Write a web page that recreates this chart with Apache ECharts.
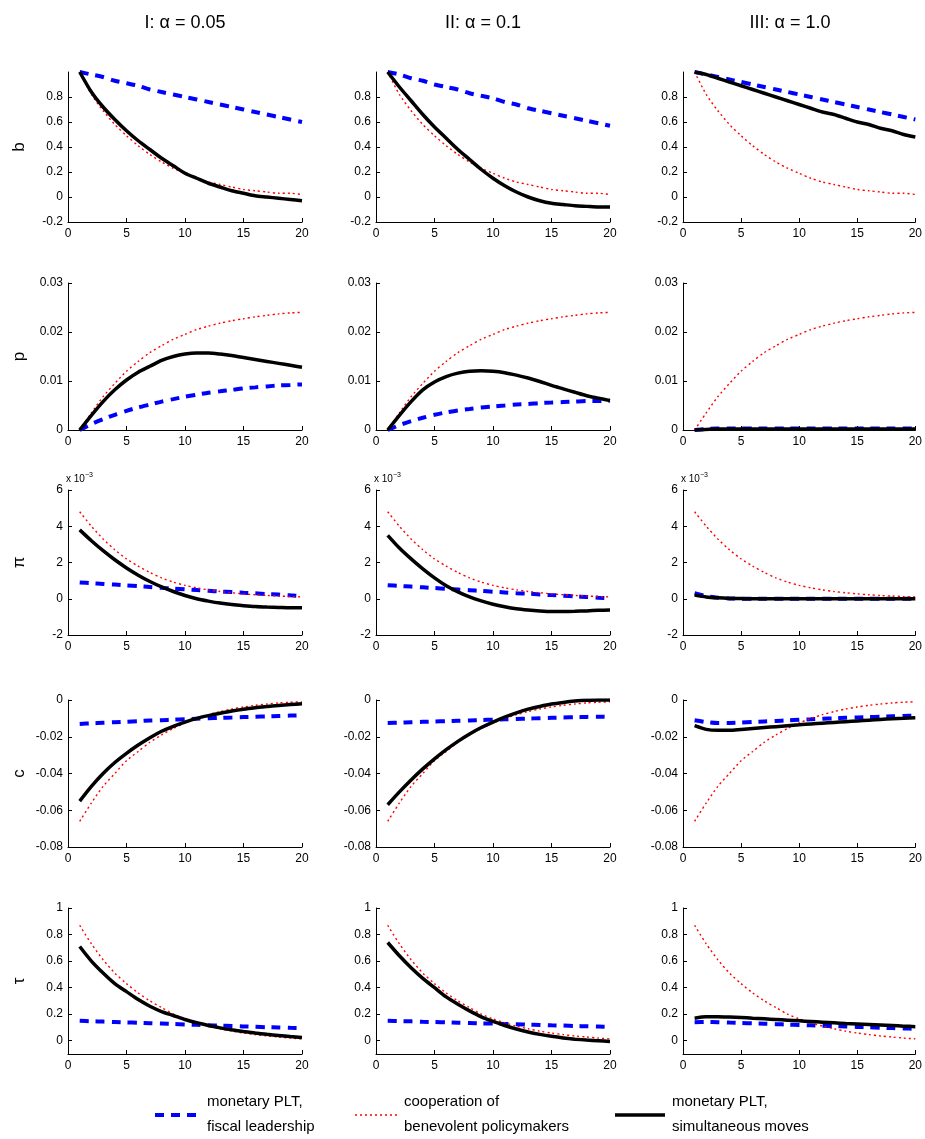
<!DOCTYPE html>
<html lang="en">
<head>
    <meta charset="UTF-8" />
    <title>PLT impulse responses</title>
    <style>
        html, body { margin: 0; padding: 0; background: #fff; }
        #chart { width: 925px; height: 1139px; }
    </style>
</head>
<body>
<div id="chart"></div>
<script src="https://cdn.jsdelivr.net/npm/echarts@6/dist/echarts.min.js"></script>
<script type="text/javascript">
    // horizon
    var periods = [1, 2, 3, 4, 5, 6, 7, 8, 9, 10, 11, 12, 13, 14, 15, 16, 17, 18, 19, 20];
    var colTitles = ['I: α = 0.05', 'II: α = 0.1', 'III: α = 1.0'];
    var rowNames = ['b', 'p', 'π', 'c', 'τ'];
    var seriesNames = ['monetary PLT,\nfiscal leadership', 'cooperation of\nbenevolent policymakers', 'monetary PLT,\nsimultaneous moves'];

    // b
    var bRed = [1.0, 0.82, 0.69, 0.58, 0.49, 0.41, 0.34, 0.28, 0.23, 0.19, 0.15, 0.12, 0.10, 0.08, 0.06, 0.05, 0.04, 0.03, 0.03, 0.02];
    var bBlue1 = [1.0, 0.98, 0.96, 0.93, 0.91, 0.89, 0.86, 0.84, 0.82, 0.80, 0.78, 0.76, 0.74, 0.72, 0.70, 0.68, 0.66, 0.64, 0.62, 0.60];
    var bBlack1 = [1.0, 0.84, 0.72, 0.62, 0.53, 0.45, 0.38, 0.31, 0.25, 0.19, 0.15, 0.11, 0.08, 0.05, 0.03, 0.01, 0.0, -0.01, -0.02, -0.03];
    var bBlue2 = [1.0, 0.98, 0.95, 0.93, 0.90, 0.88, 0.86, 0.83, 0.81, 0.79, 0.76, 0.74, 0.71, 0.69, 0.67, 0.65, 0.63, 0.61, 0.59, 0.57];
    var bBlack2 = [1.0, 0.88, 0.77, 0.66, 0.56, 0.47, 0.38, 0.30, 0.22, 0.15, 0.09, 0.04, 0.0, -0.03, -0.05, -0.06, -0.07, -0.075, -0.08, -0.08];
    var bBlue3 = [1.0, 0.98, 0.96, 0.94, 0.92, 0.90, 0.88, 0.86, 0.84, 0.82, 0.80, 0.78, 0.76, 0.74, 0.72, 0.70, 0.68, 0.66, 0.64, 0.62];
    var bBlack3 = [1.0, 0.98, 0.95, 0.92, 0.89, 0.86, 0.83, 0.80, 0.77, 0.74, 0.71, 0.68, 0.66, 0.63, 0.60, 0.58, 0.55, 0.53, 0.50, 0.48];

    // p
    var pRed = [0, 0.0035, 0.0068, 0.0095, 0.012, 0.014, 0.0158, 0.0172, 0.0185, 0.0195, 0.0205, 0.0212, 0.0218, 0.0223, 0.0227, 0.0231, 0.0234, 0.0237, 0.0239, 0.024];
    var pBlue1 = [0, 0.0012, 0.0022, 0.0031, 0.0039, 0.0046, 0.0052, 0.0058, 0.0063, 0.0068, 0.0072, 0.0076, 0.0079, 0.0082, 0.0085, 0.0087, 0.0089, 0.0091, 0.0092, 0.0093];
    var pBlack1 = [0, 0.003, 0.0058, 0.0082, 0.0102, 0.0118, 0.013, 0.0142, 0.015, 0.0155, 0.0157, 0.0157, 0.0155, 0.0152, 0.0148, 0.0144, 0.014, 0.0136, 0.0132, 0.0128];
    var pBlue2 = [0, 0.001, 0.0018, 0.0025, 0.0031, 0.0036, 0.004, 0.0043, 0.0046, 0.0048, 0.005, 0.0052, 0.0053, 0.0055, 0.0056, 0.0057, 0.0058, 0.0059, 0.0059, 0.006];
    var pBlack2 = [0, 0.003, 0.0058, 0.0082, 0.0098, 0.0109, 0.0116, 0.012, 0.0121, 0.012, 0.0117, 0.0112, 0.0106, 0.0099, 0.0091, 0.0084, 0.0077, 0.007, 0.0065, 0.006];
    var pBlue3 = [0, 0.0002, 0.0003, 0.0003, 0.0003, 0.0003, 0.0003, 0.0003, 0.0003, 0.0003, 0.0003, 0.0003, 0.0003, 0.0003, 0.0003, 0.0003, 0.0003, 0.0003, 0.0003, 0.0003];
    var pBlack3 = [0, 0.0001, 0.0002, 0.0002, 0.0002, 0.0002, 0.0002, 0.0002, 0.0002, 0.0002, 0.0002, 0.0002, 0.0002, 0.0002, 0.0002, 0.0002, 0.0002, 0.0002, 0.0002, 0.0002];

    // pi (x 10^-3)
    var piRed = [4.8, 4.0, 3.3, 2.7, 2.2, 1.8, 1.45, 1.15, 0.92, 0.74, 0.6, 0.49, 0.4, 0.33, 0.27, 0.22, 0.18, 0.15, 0.12, 0.1];
    var piBlue1 = [0.9, 0.86, 0.82, 0.78, 0.74, 0.7, 0.65, 0.6, 0.56, 0.52, 0.48, 0.44, 0.4, 0.37, 0.33, 0.3, 0.26, 0.23, 0.19, 0.15];
    var piBlack1 = [3.8, 3.2, 2.65, 2.15, 1.7, 1.3, 0.95, 0.65, 0.4, 0.18, 0.0, -0.13, -0.24, -0.32, -0.38, -0.43, -0.46, -0.48, -0.5, -0.5];
    var piBlue2 = [0.75, 0.71, 0.67, 0.63, 0.59, 0.55, 0.51, 0.47, 0.43, 0.39, 0.35, 0.31, 0.28, 0.24, 0.2, 0.17, 0.13, 0.1, 0.06, 0.03];
    var piBlack2 = [3.5, 2.8, 2.2, 1.65, 1.15, 0.72, 0.38, 0.1, -0.12, -0.3, -0.44, -0.55, -0.62, -0.67, -0.7, -0.7, -0.69, -0.67, -0.64, -0.62];
    var piBlue3 = [0.3, 0.15, 0.06, 0.02, 0, 0, 0, 0, 0, 0, 0, 0, 0, 0, 0, 0, 0, 0, 0, 0];
    var piBlack3 = [0.2, 0.1, 0.05, 0.02, 0.01, 0, 0, 0, 0, 0, 0, 0, 0, 0, 0, 0, 0, 0, 0, 0];

    // c
    var cRed = [-0.066, -0.056, -0.047, -0.04, -0.033, -0.028, -0.023, -0.019, -0.0155, -0.0125, -0.01, -0.008, -0.0063, -0.0049, -0.0038, -0.0029, -0.0022, -0.0016, -0.0012, -0.001];
    var cBlue1 = [-0.013, -0.0127, -0.0124, -0.0121, -0.0118, -0.0115, -0.0112, -0.011, -0.0107, -0.0105, -0.0102, -0.01, -0.0097, -0.0095, -0.0093, -0.0091, -0.0089, -0.0087, -0.0085, -0.0083];
    var cBlack1 = [-0.055, -0.047, -0.04, -0.034, -0.029, -0.0245, -0.0205, -0.017, -0.0143, -0.012, -0.01, -0.0085, -0.0072, -0.006, -0.005, -0.0042, -0.0035, -0.003, -0.0025, -0.002];
    var cBlue2 = [-0.0125, -0.0123, -0.0121, -0.0119, -0.0117, -0.0115, -0.0113, -0.0111, -0.0109, -0.0107, -0.0105, -0.0103, -0.0101, -0.0099, -0.0097, -0.0095, -0.0094, -0.0092, -0.0091, -0.009];
    var cBlack2 = [-0.057, -0.05, -0.0435, -0.0375, -0.032, -0.027, -0.0225, -0.0185, -0.015, -0.012, -0.0093, -0.007, -0.005, -0.0035, -0.0022, -0.0013, -0.0006, -0.0002, 0, 0];
    var cBlue3 = [-0.011, -0.012, -0.0125, -0.0125, -0.0123, -0.012, -0.0117, -0.0114, -0.0111, -0.0108, -0.0105, -0.0102, -0.01, -0.0097, -0.0095, -0.0093, -0.0091, -0.0089, -0.0087, -0.0085];
    var cBlack3 = [-0.014, -0.016, -0.0165, -0.0165, -0.016, -0.0155, -0.015, -0.0145, -0.014, -0.0135, -0.013, -0.0126, -0.0122, -0.0118, -0.0114, -0.011, -0.0106, -0.0102, -0.0099, -0.0096];

    // tau
    var tRed = [0.87, 0.73, 0.61, 0.51, 0.43, 0.36, 0.3, 0.25, 0.2, 0.165, 0.135, 0.11, 0.09, 0.072, 0.058, 0.046, 0.036, 0.028, 0.02, 0.014];
    var tBlue1 = [0.15, 0.147, 0.144, 0.141, 0.138, 0.135, 0.132, 0.129, 0.126, 0.123, 0.12, 0.117, 0.114, 0.111, 0.108, 0.105, 0.102, 0.1, 0.097, 0.095];
    var tBlack1 = [0.71, 0.6, 0.51, 0.43, 0.37, 0.31, 0.26, 0.22, 0.19, 0.16, 0.135, 0.115, 0.097, 0.082, 0.069, 0.058, 0.048, 0.04, 0.032, 0.025];
    var tBlue2 = [0.15, 0.148, 0.146, 0.143, 0.141, 0.139, 0.136, 0.134, 0.131, 0.129, 0.126, 0.124, 0.121, 0.119, 0.116, 0.114, 0.111, 0.109, 0.107, 0.105];
    var tBlack2 = [0.74, 0.64, 0.55, 0.47, 0.4, 0.33, 0.275, 0.225, 0.18, 0.145, 0.115, 0.088, 0.066, 0.048, 0.033, 0.021, 0.012, 0.005, 0.0, -0.005];
    var tBlue3 = [0.14, 0.142, 0.14, 0.137, 0.134, 0.131, 0.128, 0.125, 0.122, 0.119, 0.116, 0.113, 0.11, 0.107, 0.104, 0.101, 0.098, 0.095, 0.093, 0.09];
    var tBlack3 = [0.17, 0.18, 0.18, 0.178, 0.175, 0.17, 0.165, 0.16, 0.155, 0.15, 0.145, 0.14, 0.135, 0.13, 0.126, 0.122, 0.118, 0.114, 0.11, 0.106];

    var panels = [
        [[bBlue1, bRed, bBlack1], [bBlue2, bRed, bBlack2], [bBlue3, bRed, bBlack3]],
        [[pBlue1, pRed, pBlack1], [pBlue2, pRed, pBlack2], [pBlue3, pRed, pBlack3]],
        [[piBlue1, piRed, piBlack1], [piBlue2, piRed, piBlack2], [piBlue3, piRed, piBlack3]],
        [[cBlue1, cRed, cBlack1], [cBlue2, cRed, cBlack2], [cBlue3, cRed, cBlack3]],
        [[tBlue1, tRed, tBlack1], [tBlue2, tRed, tBlack2], [tBlue3, tRed, tBlack3]]
    ];

    var yTicks = [
        [-0.2, 0, 0.2, 0.4, 0.6, 0.8],
        [0, 0.01, 0.02, 0.03],
        [-2, 0, 2, 4, 6],
        [-0.08, -0.06, -0.04, -0.02, 0],
        [0, 0.2, 0.4, 0.6, 0.8, 1]
    ];
    var yRange = [[-0.2, 1], [0, 0.03], [-2, 6], [-0.08, 0], [-0.1, 1]];

    var colLeft = [68, 376, 683];
    var plotW = 234;
    var rowTop = [72, 283, 490, 700, 908];
    var rowH = [150, 147, 145, 147, 146];
    var font = 'Liberation Sans, Arial, sans-serif';

    var grid = [], xAxis = [], yAxis = [], series = [], graphic = [];
    var styles = [
        { color: '#0000ff', width: 4, type: [9, 7] },
        { color: '#ff0000', width: 1.4, type: [2, 3] },
        { color: '#000000', width: 3.5, type: 'solid' }
    ];

    for (var r = 0; r < 5; r++) {
        for (var c = 0; c < 3; c++) {
            var k = r * 3 + c;
            grid.push({ left: colLeft[c], top: rowTop[r], width: plotW, height: rowH[r] });
            xAxis.push({
                gridIndex: k, type: 'value', min: 0, max: 20, interval: 5,
                axisLine: { onZero: false, lineStyle: { color: '#000' } },
                axisTick: { inside: true, length: 4, lineStyle: { color: '#000' } },
                axisLabel: { color: '#000', fontSize: 12, fontFamily: font, margin: 6 },
                splitLine: { show: false }
            });
            yAxis.push({
                gridIndex: k, type: 'value', min: yRange[r][0], max: yRange[r][1],
                name: c === 0 ? rowNames[r] : '',
                nameLocation: 'middle', nameRotate: 90, nameGap: 40,
                nameTextStyle: { color: '#000', fontSize: 17, fontFamily: font },
                axisLine: { show: true, onZero: false, lineStyle: { color: '#000' } },
                axisTick: { inside: true, length: 4, customValues: yTicks[r], lineStyle: { color: '#000' } },
                axisLabel: {
                    color: '#000', fontSize: 12, fontFamily: font, margin: 5,
                    customValues: yTicks[r],
                    formatter: function (v) { return String(+v.toFixed(4)); }
                },
                splitLine: { show: false }
            });
            for (var s = 0; s < 3; s++) {
                var vals = panels[r][c][s];
                series.push({
                    name: seriesNames[s], type: 'line', xAxisIndex: k, yAxisIndex: k,
                    data: periods.map(function (p, i) { return [p, vals[i]]; }),
                    showSymbol: false, smooth: 0.25, z: s === 1 ? 3 : (s === 0 ? 2 : 4),
                    lineStyle: styles[s], itemStyle: { color: styles[s].color }
                });
            }
            if (r === 2) {
                graphic.push({
                    type: 'text', left: colLeft[c] - 2, top: rowTop[r] - 18,
                    style: {
                        text: '{a|x 10}{b|−3}',
                        rich: {
                            a: { fontSize: 10, fontFamily: font, fill: '#000' },
                            b: { fontSize: 7, fontFamily: font, fill: '#000', verticalAlign: 'top', padding: [0, 0, 8, 0] }
                        }
                    }
                });
            }
        }
    }

    var titleX = [185, 483, 790];
    for (var t = 0; t < 3; t++) {
        graphic.push({
            type: 'text', x: titleX[t], y: 14,
            style: { text: colTitles[t], fontSize: 18, fontFamily: font, fill: '#000', align: 'center' }
        });
    }

    // legend drawn by hand (two-line entries)
    var legX = [155, 355, 615];
    var legLen = [45, 42, 50];
    for (var j = 0; j < 3; j++) {
        graphic.push({
            type: 'line', shape: { x1: legX[j], y1: 1115, x2: legX[j] + legLen[j], y2: 1115 },
            style: { stroke: styles[j].color, lineWidth: styles[j].width, lineDash: styles[j].type === 'solid' ? null : styles[j].type }
        });
        graphic.push({
            type: 'text', x: legX[j] + legLen[j] + 7, y: 1114,
            style: { text: seriesNames[j], fontSize: 15, fontFamily: font, fill: '#000', verticalAlign: 'middle', lineHeight: 25 }
        });
    }

    var myChart = echarts.init(document.getElementById('chart'));
    myChart.setOption({
        animation: false,
        grid: grid, xAxis: xAxis, yAxis: yAxis, series: series, graphic: graphic
    });
    window.onresize = function () { myChart.resize(); };
</script>
</body>
</html>
